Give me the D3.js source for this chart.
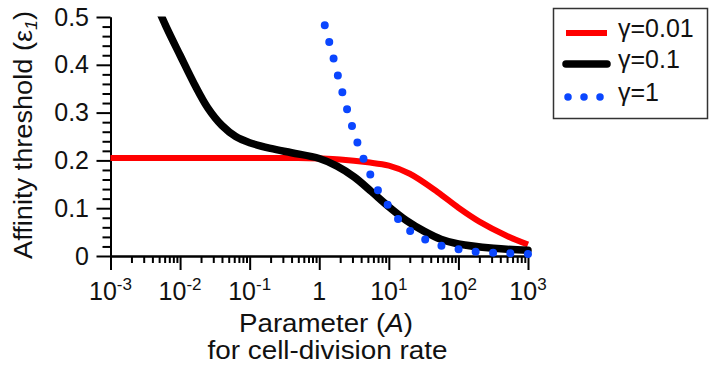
<!DOCTYPE html>
<html>
<head>
<meta charset="utf-8">
<script src="https://cdn.jsdelivr.net/npm/d3@7"></script>
<style>
  body { margin: 0; background: #fff; }
  svg { display: block; font-family: "Liberation Sans", Arial, sans-serif; }
</style>
</head>
<body>
<svg id="chart" width="711" height="367"></svg>
<script>
// values (A on a log axis, threshold eps1)
const seriesNames = ['γ=0.01', 'γ=0.1', 'γ=1']
const redA   = [0.001, 0.01, 0.1, 0.5, 1, 2, 5, 10, 20, 50, 100, 200, 500, 1000]
const redEps = [0.205, 0.205, 0.205, 0.205, 0.204, 0.202, 0.196, 0.189, 0.172, 0.134, 0.101, 0.072, 0.042, 0.024]
const blackA   = [0.004, 0.0063, 0.01, 0.016, 0.025, 0.04, 0.063, 0.1, 0.2, 0.4, 1, 1.8, 3.2, 5.6, 10, 18, 32, 56, 100, 320, 1000]
const blackEps = [0.545, 0.48, 0.42, 0.36, 0.31, 0.273, 0.25, 0.237, 0.225, 0.216, 0.204, 0.188, 0.165, 0.135, 0.103, 0.074, 0.052, 0.035, 0.025, 0.016, 0.012]
const blueA   = [1.2, 1.5, 2, 3, 4, 5, 7, 10, 15, 20, 30, 50, 100, 200, 500, 1000]
const blueEps = [0.483, 0.43, 0.359, 0.269, 0.216, 0.182, 0.137, 0.104, 0.07, 0.053, 0.038, 0.024, 0.014, 0.008, 0.006, 0.004]
const xTickExps = [-3, -2, -1, 0, 1, 2, 3]
const yTicks = [0, 0.1, 0.2, 0.3, 0.4, 0.5]

const svg = d3.select('#chart')
const x = d3.scaleLog().domain([1e-3, 1e3]).range([110.5, 528])
const y = d3.scaleLinear().domain([0, 0.5]).range([256, 17])

// ── axes ──
const minorX = []
xTickExps.slice(0, -1).forEach(e => { for (let k = 2; k <= 9; k++) minorX.push(k * Math.pow(10, e)) })
const minorY = d3.range(0, 0.5001, 0.02).filter(v => Math.abs(v * 10 - Math.round(v * 10)) > 1e-6)

const styleAxis = g => {
  g.selectAll('path, line').attr('stroke', '#000').attr('stroke-width', 2)
  g.selectAll('text').remove()
}
svg.append('g').attr('transform', 'translate(0,256)')
  .call(d3.axisBottom(x).tickValues(minorX).tickSize(7).tickSizeOuter(0).tickFormat(''))
  .call(styleAxis)
svg.append('g').attr('transform', 'translate(0,256)')
  .call(d3.axisBottom(x).tickValues(xTickExps.map(e => Math.pow(10, e))).tickSize(14).tickSizeOuter(0).tickFormat(''))
  .call(styleAxis)
svg.append('g').attr('transform', 'translate(110.5,0)')
  .call(d3.axisLeft(y).tickValues(minorY).tickSize(8).tickSizeOuter(0).tickFormat(''))
  .call(styleAxis)
svg.append('g').attr('transform', 'translate(110.5,0)')
  .call(d3.axisLeft(y).tickValues(yTicks).tickSize(14).tickSizeOuter(0).tickFormat(''))
  .call(styleAxis)

// tick labels
svg.append('g').selectAll('text').data(yTicks).join('text')
  .attr('x', 89).attr('y', d => y(d) + 8.5)
  .attr('text-anchor', 'end').attr('font-size', 25).attr('fill', '#111')
  .text(d => d === 0 ? '0' : d3.format('.1f')(d))

const xl = svg.append('g').selectAll('text').data(xTickExps).join('text')
  .attr('x', e => x(Math.pow(10, e))).attr('y', 300)
  .attr('text-anchor', 'middle').attr('font-size', 25).attr('fill', '#111')
xl.filter(e => e === 0).text('1')
xl.filter(e => e !== 0).each(function (e) {
  const t = d3.select(this)
  t.append('tspan').text('10')
  t.append('tspan').attr('dy', -10).attr('font-size', 17).text(e < 0 ? '-' + (-e) : String(e))
})

// axis titles — the source squeezes the two lines tightly, glyphs a bit wide
svg.append('text').attr('x', 326).attr('y', 332).attr('text-anchor', 'middle')
  .attr('font-size', 25).attr('fill', '#111')
  .attr('textLength', 174).attr('lengthAdjust', 'spacingAndGlyphs')
  .call(t => {
    t.append('tspan').text('Parameter (')
    t.append('tspan').attr('font-style', 'italic').text('A')
    t.append('tspan').text(')')
  })
svg.append('text').attr('x', 327.5).attr('y', 359).attr('text-anchor', 'middle')
  .attr('font-size', 25).attr('fill', '#111')
  .attr('textLength', 240).attr('lengthAdjust', 'spacingAndGlyphs')
  .text('for cell-division rate')

svg.append('text').attr('transform', 'translate(32,135) rotate(-90)').attr('text-anchor', 'middle')
  .attr('font-size', 26).attr('fill', '#111')
  .attr('textLength', 248).attr('lengthAdjust', 'spacingAndGlyphs')
  .call(t => {
    t.append('tspan').text('Affinity threshold (ε')
    t.append('tspan').attr('dy', 5).attr('font-size', 17).attr('font-style', 'italic').text('1')
    t.append('tspan').attr('dy', -5).text(')')
  })

// ── curves ──
svg.append('clipPath').attr('id', 'clip')
  .append('rect').attr('x', 0).attr('y', 16.5).attr('width', 711).attr('height', 350)

const line = d3.line().x(d => x(d[0])).y(d => y(d[1])).curve(d3.curveCatmullRom.alpha(0.5))
const plot = svg.append('g').attr('clip-path', 'url(#clip)')

const series = [
  { name: seriesNames[0], pts: d3.zip(redA, redEps), color: '#ff0000', width: 6, dotted: false, cap: 'butt' },
  { name: seriesNames[1], pts: d3.zip(blackA, blackEps), color: '#000', width: 7.5, dotted: false, cap: 'round' },
  { name: seriesNames[2], pts: d3.zip(blueA, blueEps), color: '#0a46ff', width: 8, dotted: true, cap: 'round' }
]

plot.selectAll('path').data(series).join('path')
  .attr('d', d => line(d.pts))
  .attr('fill', 'none')
  .attr('stroke', d => d.color)
  .attr('stroke-width', d => d.width)
  .attr('stroke-linecap', d => d.cap)
  .each(function (d) {
    // 21 round dots evenly along the dotted curve, like the source
    if (d.dotted) d3.select(this).attr('stroke-dasharray', '0 ' + (this.getTotalLength() / 20 - 0.01))
  })

// ── legend ──
const legend = svg.append('g')
legend.append('rect').attr('x', 553.5).attr('y', 8.5).attr('width', 154).attr('height', 110)
  .attr('fill', '#fff').attr('stroke', '#333').attr('stroke-width', 1.5)
const rows = legend.selectAll('g.row').data(series).join('g').attr('class', 'row')
  .attr('transform', (d, i) => `translate(0,${[33, 64, 97][i]})`)
rows.append('line').attr('x1', d => d.dotted ? 568 : 566).attr('x2', d => d.dotted ? 601 : 607)
  .attr('stroke', d => d.color).attr('stroke-width', d => d.dotted ? 7.5 : d.width)
  .attr('stroke-linecap', d => d.cap).attr('stroke-dasharray', d => d.dotted ? '0 16' : null)
rows.append('text').attr('x', 618).attr('y', 4).attr('font-size', 25).attr('fill', '#111')
  .text(d => d.name)
</script>
</body>
</html>
